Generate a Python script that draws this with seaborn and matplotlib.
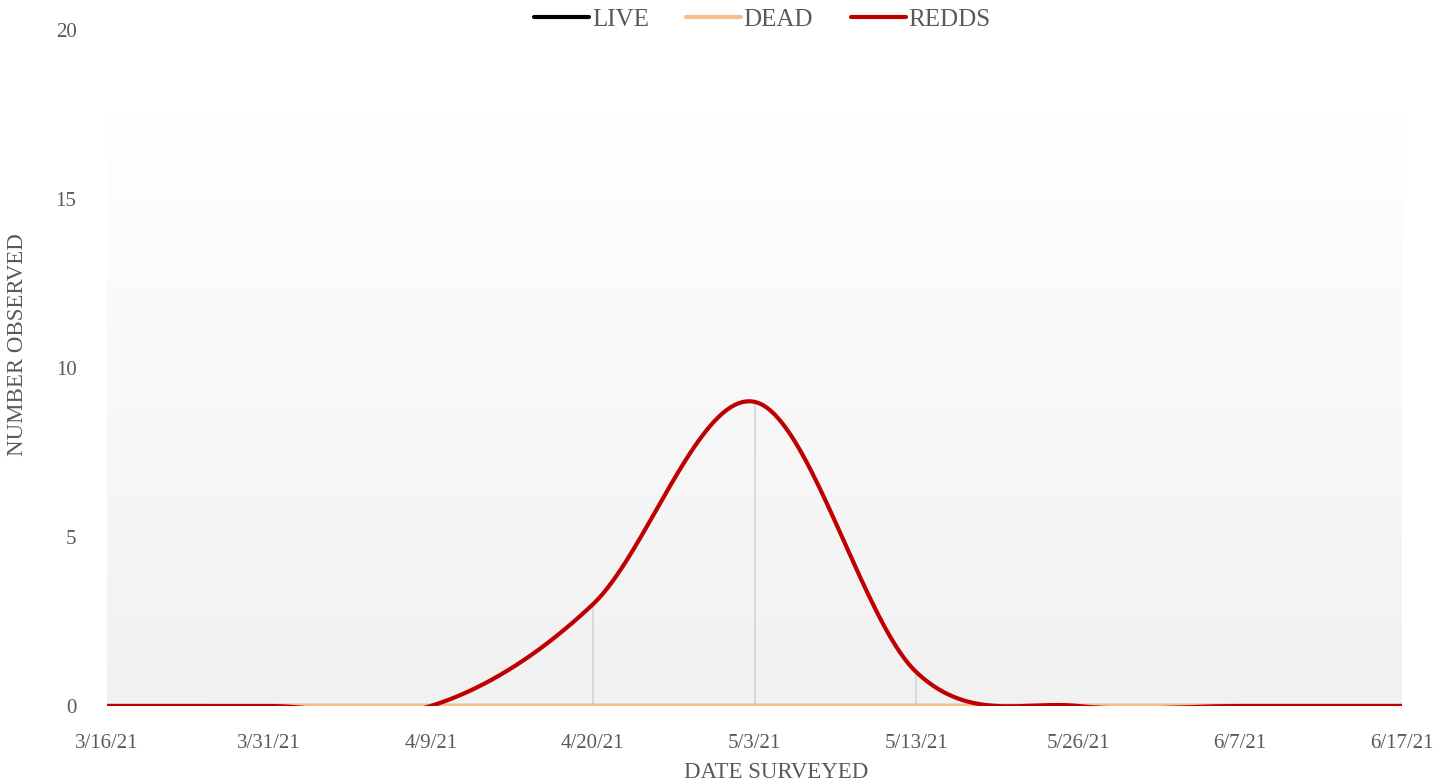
"""
Survey counts (live, dead, redds) by date, drawn as smoothed lines
with drop lines, in the style of the original spreadsheet chart.
"""

import matplotlib

matplotlib.use("Agg")
import matplotlib.pyplot as plt
import numpy as np
import pandas as pd
import seaborn as sns
from matplotlib.colors import LinearSegmentedColormap

# --- Data ---
dates = ["3/16/21", "3/31/21", "4/9/21", "4/20/21", "5/3/21",
         "5/13/21", "5/26/21", "6/7/21", "6/17/21"]
live = [0, 0, 0, 0, 0, 0, 0, 0, 0]
dead = [0, 0, 0, 0, 0, 0, 0, 0, 0]
redds = [0, 0, 0, 3, 9, 1, 0, 0, 0]

series = {"LIVE": live, "DEAD": dead, "REDDS": redds}
colors = {"LIVE": "#000000", "DEAD": "#F8BD8C", "REDDS": "#C00000"}
TEXT = "#595959"


def smooth(values, steps=40):
    """Spreadsheet-style smoothed line (Bezier through the points)."""
    y = np.asarray(values, dtype=float)
    x = np.arange(len(y), dtype=float)
    n = len(y)
    t = np.linspace(0, 1, steps, endpoint=False)
    px, py = [], []
    for i in range(n - 1):
        i0, i3 = max(i - 1, 0), min(i + 2, n - 1)
        c1x = x[i] + (x[i + 1] - x[i0]) / 6
        c1y = y[i] + (y[i + 1] - y[i0]) / 6
        c2x = x[i + 1] - (x[i3] - x[i]) / 6
        c2y = y[i + 1] - (y[i3] - y[i]) / 6
        w = [(1 - t) ** 3, 3 * (1 - t) ** 2 * t, 3 * (1 - t) * t ** 2, t ** 3]
        px.extend(w[0] * x[i] + w[1] * c1x + w[2] * c2x + w[3] * x[i + 1])
        py.extend(w[0] * y[i] + w[1] * c1y + w[2] * c2y + w[3] * y[i + 1])
    px.append(x[-1])
    py.append(y[-1])
    return np.array(px), np.array(py)


rows = []
for name, vals in series.items():
    sx, sy = smooth(vals)
    rows.append(pd.DataFrame({"pos": sx, "count": sy, "series": name}))
df = pd.concat(rows, ignore_index=True)

# --- Plot ---
sns.set_theme(style="white")
plt.rcParams["font.family"] = ["Liberation Serif", "DejaVu Serif"]

fig = plt.figure(figsize=(14.45, 7.82), dpi=100)
ax = fig.add_axes([107 / 1445, 1 - 706 / 782, (1402 - 107) / 1445, 676 / 782])

# plot-area gradient (white at top to light grey at bottom)
cmap = LinearSegmentedColormap.from_list("bg", ["#F1F1F1", "#FFFFFF"])
grad = np.linspace(0, 1, 256).reshape(-1, 1)
ax.imshow(grad, cmap=cmap, aspect="auto", origin="lower",
          extent=(0, len(dates) - 1, 0, 17.6), zorder=0)

# drop lines from the highest series value down to the axis
top = np.max(np.vstack(list(series.values())), axis=0)
ax.vlines(np.arange(len(dates)), 0, top, color="#D4D4D4", lw=1.2, zorder=1)

sns.lineplot(data=df, x="pos", y="count", hue="series",
             hue_order=list(series), palette=colors, linewidth=3,
             sort=False, estimator=None, ax=ax, zorder=3)

ax.set_xlim(0, len(dates) - 1)
ax.set_ylim(0, 20)
ax.set_xticks(np.arange(len(dates)))
ax.set_xticklabels(dates)
ax.set_yticks([0, 5, 10, 15, 20])
ax.tick_params(axis="both", length=0, labelsize=15, labelcolor=TEXT)
ax.tick_params(axis="x", pad=20)
ax.tick_params(axis="y", pad=22)
for s in ax.spines.values():
    s.set_visible(False)
ax.set_facecolor("none")

ax.set_xlabel("DATE SURVEYED", fontsize=16.5, color=TEXT)
ax.set_ylabel("NUMBER OBSERVED", fontsize=16.5, color=TEXT)
ax.xaxis.set_label_coords(0.517, -0.083)
ax.yaxis.set_label_coords(-0.061, 0.535)

handles, labels = ax.get_legend_handles_labels()
ax.legend(handles, labels, loc="center", bbox_to_anchor=(0.506, 1.015),
          ncol=3, frameon=False, fontsize=18, labelcolor=TEXT,
          handlelength=2.2, handletextpad=0.1, columnspacing=1.5)

fig.savefig("out.png", dpi=100)
